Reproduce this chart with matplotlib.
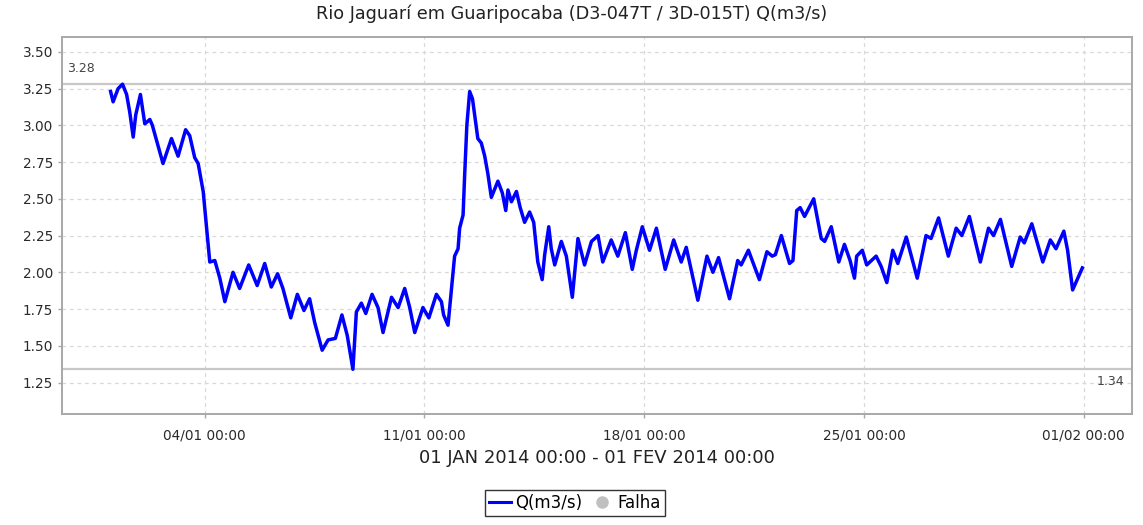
import numpy as np
import pandas as pd
import matplotlib
matplotlib.use('Agg')
import matplotlib.pyplot as plt
import matplotlib.dates as mdates
from matplotlib.lines import Line2D

# days since 01/01/2014 00:00 and discharge (m3/s)
dias = [0.00, 0.08, 0.24, 0.38, 0.51, 0.61, 0.72, 0.80, 0.95, 1.09, 1.25, 1.33,
        1.67, 1.94, 2.15, 2.39, 2.52, 2.68, 2.79, 2.95, 3.05, 3.16, 3.32, 3.48,
        3.64, 3.90, 4.11, 4.40, 4.67, 4.91, 5.12, 5.32, 5.49, 5.74, 5.95, 6.16,
        6.34, 6.50, 6.74, 6.93, 7.16, 7.37, 7.54, 7.72, 7.83, 7.99, 8.13, 8.33,
        8.52, 8.68, 8.95, 9.16, 9.37, 9.53, 9.69, 9.95, 10.14, 10.38, 10.54,
        10.61, 10.75, 10.86, 10.96, 11.07, 11.12, 11.23, 11.28, 11.35, 11.44,
        11.53, 11.60, 11.70, 11.81, 11.92, 12.02, 12.13, 12.34, 12.48, 12.59,
        12.66, 12.77, 12.93, 13.05, 13.19, 13.35, 13.48, 13.61, 13.75, 13.83,
        13.96, 14.04, 14.15, 14.36, 14.52, 14.71, 14.89, 15.10, 15.32, 15.53,
        15.68, 15.95, 16.16, 16.40, 16.62, 16.75, 16.94, 17.17, 17.39, 17.67,
        17.94, 18.18, 18.34, 18.71, 19.00, 19.19, 19.37, 19.72, 19.98, 20.09,
        20.32, 20.67, 20.91, 21.08, 21.18, 21.37, 21.63, 21.74, 21.86, 21.97,
        22.11, 22.40, 22.64, 22.75, 22.96, 23.20, 23.38, 23.56, 23.70, 23.77,
        23.95, 24.09, 24.39, 24.55, 24.73, 24.92, 25.08, 25.35, 25.70, 25.98,
        26.14, 26.38, 26.69, 26.94, 27.12, 27.36, 27.71, 27.97, 28.13, 28.35,
        28.71, 28.98, 29.11, 29.35, 29.70, 29.94, 30.12, 30.37, 30.49, 30.65,
        30.96]
vazao = [3.23, 3.16, 3.25, 3.28, 3.21, 3.09, 2.92, 3.07, 3.21, 3.01, 3.04, 3.00,
         2.74, 2.91, 2.79, 2.97, 2.93, 2.78, 2.74, 2.55, 2.32, 2.07, 2.08, 1.96,
         1.80, 2.00, 1.89, 2.05, 1.91, 2.06, 1.90, 1.99, 1.89, 1.69, 1.85, 1.74,
         1.82, 1.66, 1.47, 1.54, 1.55, 1.71, 1.57, 1.34, 1.73, 1.79, 1.72, 1.85,
         1.76, 1.59, 1.83, 1.76, 1.89, 1.76, 1.59, 1.76, 1.69, 1.85, 1.80,
         1.71, 1.64, 1.89, 2.11, 2.16, 2.30, 2.39, 2.66, 3.00, 3.23,
         3.18, 3.07, 2.91, 2.88, 2.79, 2.67, 2.51, 2.62, 2.54, 2.42,
         2.56, 2.48, 2.55, 2.44, 2.34, 2.41, 2.34, 2.07, 1.95, 2.12,
         2.31, 2.16, 2.05, 2.21, 2.11, 1.83, 2.23, 2.05, 2.21, 2.25,
         2.07, 2.22, 2.11, 2.27, 2.02, 2.15, 2.31, 2.15, 2.30, 2.02,
         2.22, 2.07, 2.17, 1.81, 2.11, 2.00, 2.10, 1.82, 2.08, 2.05,
         2.15, 1.95, 2.14, 2.11, 2.12, 2.25, 2.06, 2.08, 2.42, 2.44,
         2.38, 2.50, 2.23, 2.21, 2.31, 2.07, 2.19, 2.08, 1.96, 2.11,
         2.15, 2.05, 2.11, 2.04, 1.93, 2.15, 2.06, 2.24, 1.96, 2.25,
         2.23, 2.37, 2.11, 2.30, 2.25, 2.38, 2.07, 2.30, 2.25, 2.36,
         2.04, 2.24, 2.20, 2.33, 2.07, 2.22, 2.16, 2.28, 2.15, 1.88,
         2.03]

inicio = pd.Timestamp('2014-01-01 00:00')
fim = pd.Timestamp('2014-02-01 00:00')
tempos = inicio + pd.to_timedelta(dias, unit='D')
marcas = pd.date_range('2014-01-04', periods=5, freq='7D')
y_ticks = [1.25, 1.50, 1.75, 2.00, 2.25, 2.50, 2.75, 3.00, 3.25, 3.50]
v_max, v_min = 3.28, 1.34

fig = plt.figure(figsize=(11.43, 5.25), dpi=100)
ax = fig.add_axes([0.0542, 0.2109, 0.9364, 0.7192])

ax.axhline(v_max, color='#c8c8c8', lw=1.6, zorder=2)
ax.axhline(v_min, color='#c8c8c8', lw=1.6, zorder=2)
ax.plot(tempos, vazao, color='#0000ff', lw=2.5, zorder=3)

span = (fim - inicio) * 0.05
ax.set_xlim(inicio - span, fim + span)
ax.set_ylim(1.034, 3.603)
ax.set_yticks(y_ticks)
ax.set_yticklabels([f'{v:.2f}' for v in y_ticks])
ax.set_xticks(marcas)
ax.xaxis.set_major_formatter(mdates.DateFormatter('%d/%m %H:%M'))

ax.grid(True, color='#d8d8d8', ls=(0, (3, 3)), lw=0.9)
ax.set_axisbelow(True)
for spine in ax.spines.values():
    spine.set_edgecolor('#a8a8a8')
    spine.set_linewidth(1.4)
ax.tick_params(colors='#a8a8a8', labelcolor='#2a2a2a', labelsize=9.8,
               length=3, width=1)
ax.tick_params(axis='x', pad=7)

ax.text(0.005, v_max + 0.06, f'{v_max:.2f}', transform=ax.get_yaxis_transform(),
        ha='left', va='bottom', fontsize=9, color='#444444')
ax.text(0.993, v_min - 0.04, f'{v_min:.2f}', transform=ax.get_yaxis_transform(),
        ha='right', va='top', fontsize=9, color='#444444')

fig.text(0.5, 0.973, 'Rio Jaguarí em Guaripocaba (D3-047T / 3D-015T) Q(m3/s)',
         ha='center', va='center', fontsize=12.7, color='#222222')
fig.text(0.522, 0.127, '01 JAN 2014 00:00 - 01 FEV 2014 00:00',
         ha='center', va='center', fontsize=13, color='#222222')

handles = [Line2D([], [], color='#0000ff', lw=2.2),
           Line2D([], [], color='#c0c0c0', marker='o', ls='none', markersize=8)]
fig.legend(handles, ['Q(m3/s)', 'Falha'], loc='center', bbox_to_anchor=(0.503, 0.042),
           ncol=2, fontsize=12, frameon=True, fancybox=False, edgecolor='black',
           handlelength=1.3, handletextpad=0.3, columnspacing=0.5,
           borderpad=0.25, borderaxespad=0)

plt.savefig('out.png', dpi=100, facecolor='white')
plt.close(fig)
